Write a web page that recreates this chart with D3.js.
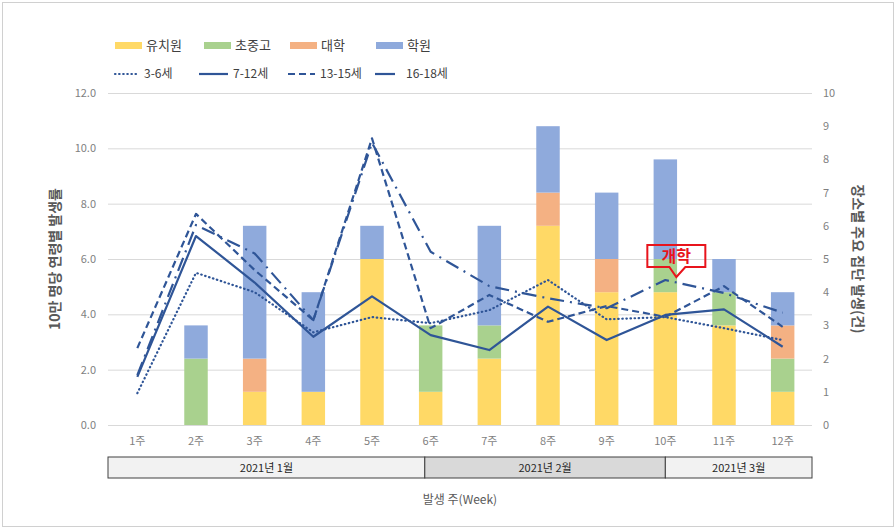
<!DOCTYPE html>
<html>
<head>
<meta charset="utf-8">
<script src="https://cdn.jsdelivr.net/npm/d3@7"></script>
<style>
  body { margin: 0; background: #fff; }
  text { font-family: "Noto Sans CJK KR", "Noto Sans", sans-serif; }
</style>
</head>
<body>
<div id="wrapper"></div>
<script>
// weeks and values
const weeks = ["1주","2주","3주","4주","5주","6주","7주","8주","9주","10주","11주","12주"]

// clusters by place (right axis, count)
const kindergarten = [0, 0, 1, 1, 5, 1, 2, 6, 4, 4, 3, 1]
const school       = [0, 2, 0, 0, 0, 2, 1, 0, 0, 1, 1, 1]
const university   = [0, 0, 1, 0, 0, 0, 0, 1, 1, 0, 0, 1]
const academy      = [0, 1, 4, 3, 1, 0, 3, 2, 2, 3, 1, 1]

// rate per 100k by age (left axis)
const age3to6   = [1.15, 5.5, 4.8, 3.35, 3.9, 3.68, 4.15, 5.24, 3.82, 3.9, 3.5, 3.07]
const age7to12  = [1.74, 6.83, 5.15, 3.19, 4.65, 3.25, 2.71, 4.28, 3.07, 3.98, 4.18, 2.83]
const age13to15 = [2.78, 7.63, 5.6, 3.79, 10.36, 3.5, 4.7, 3.73, 4.3, 3.91, 5.02, 3.55]
const age16to18 = [1.8, 7.23, 6.2, 3.79, 10.2, 6.26, 5.02, 4.58, 4.22, 5.24, 4.77, 4.06]

const leftTicks = [0, 2, 4, 6, 8, 10, 12]
const rightTicks = [0, 1, 2, 3, 4, 5, 6, 7, 8, 9, 10]

// month bands in week units
const months = [
    { label: "2021년 1월", start: 0, end: 5.4, fill: "#f2f2f2" },
    { label: "2021년 2월", start: 5.4, end: 9.5, fill: "#d9d9d9" },
    { label: "2021년 3월", start: 9.5, end: 12, fill: "#f2f2f2" },
]

const barSeries = [
    { name: "유치원", values: kindergarten, color: "#FFD966" },
    { name: "초중고", values: school, color: "#A9D18E" },
    { name: "대학", values: university, color: "#F4B183" },
    { name: "학원", values: academy, color: "#8FAADC" },
]
const lineSeries = [
    { name: "3-6세", values: age3to6, dash: "0.5,3.6", cap: "round" },
    { name: "7-12세", values: age7to12, dash: null, cap: "butt" },
    { name: "13-15세", values: age13to15, dash: "7,4", cap: "butt" },
    { name: "16-18세", values: age16to18, dash: "14,6,2,6", cap: "butt" },
]

let dimensions = {
    width: 896,
    height: 529,
    margin: { top: 93, right: 84, bottom: 104, left: 108 },
}
dimensions.boundedWidth = dimensions.width - dimensions.margin.left - dimensions.margin.right
dimensions.boundedHeight = dimensions.height - dimensions.margin.top - dimensions.margin.bottom

const lineColor = "#2F5597"
const gridColor = "#d9d9d9"
const tickColor = "#7f7f7f"

const svg = d3.select("#wrapper")
    .append("svg")
    .attr("width", dimensions.width)
    .attr("height", dimensions.height)

svg.append("rect")
    .attr("x", 2.5).attr("y", 2.5)
    .attr("width", dimensions.width - 5).attr("height", dimensions.height - 5)
    .attr("fill", "none").attr("stroke", "#d0d0d0")

const bounds = svg.append("g")
    .attr("transform", `translate(${dimensions.margin.left},${dimensions.margin.top})`)

const x = d3.scaleBand()
    .domain(weeks)
    .range([0, dimensions.boundedWidth])
    .paddingInner(0.6)
    .paddingOuter(0.3)
const xWeek = d3.scaleLinear().domain([0, 12]).range([0, dimensions.boundedWidth])
const yLeft = d3.scaleLinear().domain([0, 12]).range([dimensions.boundedHeight, 0])
const yRight = d3.scaleLinear().domain([0, 10]).range([dimensions.boundedHeight, 0])

// gridlines
const grid = bounds.append("g")
    .call(d3.axisLeft(yLeft).tickValues(leftTicks).tickSize(-dimensions.boundedWidth).tickFormat(""))
grid.select(".domain").remove()
grid.selectAll("line").attr("stroke", gridColor)

// left axis
const leftAxis = bounds.append("g")
    .call(d3.axisLeft(yLeft).tickValues(leftTicks).tickFormat(d3.format(".1f")).tickSize(0).tickPadding(12))
leftAxis.select(".domain").remove()
leftAxis.selectAll("text").attr("fill", tickColor).style("font-size", "11px")

// right axis
const rightAxis = bounds.append("g")
    .attr("transform", `translate(${dimensions.boundedWidth},0)`)
    .call(d3.axisRight(yRight).tickValues(rightTicks).tickSize(0).tickPadding(11))
rightAxis.select(".domain").remove()
rightAxis.selectAll("text").attr("fill", tickColor).style("font-size", "11px")

// bottom axis
const bottomAxis = bounds.append("g")
    .attr("transform", `translate(0,${dimensions.boundedHeight})`)
    .call(d3.axisBottom(x).tickSize(0).tickPadding(12))
bottomAxis.select(".domain").remove()
bottomAxis.selectAll("text").attr("fill", tickColor).style("font-size", "11px")

// stacked bars
const stackRows = weeks.map((w, i) => {
    const row = { week: w }
    barSeries.forEach(s => { row[s.name] = s.values[i] })
    return row
})
const stacked = d3.stack().keys(barSeries.map(s => s.name))(stackRows)

bounds.append("g")
    .selectAll("g")
    .data(stacked)
    .join("g")
    .attr("fill", (d, i) => barSeries[i].color)
    .selectAll("rect")
    .data(d => d)
    .join("rect")
    .attr("x", d => x(d.data.week))
    .attr("y", d => yRight(d[1]))
    .attr("width", x.bandwidth())
    .attr("height", d => yRight(d[0]) - yRight(d[1]))

// lines
const lineGen = d3.line()
    .x((d, i) => x(weeks[i]) + x.bandwidth() / 2)
    .y(d => yLeft(d))

bounds.append("g")
    .selectAll("path")
    .data(lineSeries)
    .join("path")
    .attr("d", d => lineGen(d.values))
    .attr("fill", "none")
    .attr("stroke", lineColor)
    .attr("stroke-width", 2.2)
    .attr("stroke-linejoin", "round")
    .attr("stroke-linecap", d => d.cap)
    .attr("stroke-dasharray", d => d.dash)

// 개학 callout
const callX = x("10주") + x.bandwidth() / 2
const callTip = yLeft(age16to18[9]) - 3
const callout = bounds.append("g").attr("fill", "none").attr("stroke", "#e8141c").attr("stroke-width", 2)
callout.append("path")
    .attr("d", `M${callX - 18},${callTip - 32} H${callX + 40} V${callTip - 10} H${callX + 20} L${callX + 11},${callTip} L${callX + 4},${callTip - 10} H${callX - 18} Z`)
bounds.append("text")
    .attr("x", callX + 11)
    .attr("y", callTip - 15)
    .attr("text-anchor", "middle")
    .attr("fill", "#e8141c")
    .style("font-size", "16px")
    .style("font-weight", "bold")
    .text("개학")

// month bands
const monthG = bounds.append("g")
    .attr("transform", `translate(0,${dimensions.boundedHeight + 32})`)
monthG.selectAll("rect")
    .data(months)
    .join("rect")
    .attr("x", d => xWeek(d.start))
    .attr("y", 0)
    .attr("width", d => xWeek(d.end) - xWeek(d.start))
    .attr("height", 21)
    .attr("fill", d => d.fill)
    .attr("stroke", "#404040")
    .attr("stroke-width", 1)
monthG.selectAll("text")
    .data(months)
    .join("text")
    .attr("x", d => (xWeek(d.start) + xWeek(d.end)) / 2)
    .attr("y", 15)
    .attr("text-anchor", "middle")
    .attr("fill", "#262626")
    .style("font-size", "11px")
    .text(d => d.label)

// axis titles
svg.append("text")
    .attr("transform", `translate(60,${dimensions.margin.top + dimensions.boundedHeight / 2}) rotate(-90)`)
    .attr("text-anchor", "middle")
    .attr("fill", "#595959")
    .style("font-size", "14px")
    .style("font-weight", "bold")
    .text("10만 명당 연령별 발생률")

svg.append("text")
    .attr("transform", `translate(853,${dimensions.margin.top + dimensions.boundedHeight / 2}) rotate(90)`)
    .attr("text-anchor", "middle")
    .attr("fill", "#595959")
    .style("font-size", "14px")
    .style("font-weight", "bold")
    .text("장소별 주요 집단 발생(건)")

svg.append("text")
    .attr("x", dimensions.margin.left + dimensions.boundedWidth / 2)
    .attr("y", 504)
    .attr("text-anchor", "middle")
    .attr("fill", "#595959")
    .style("font-size", "12px")
    .text("발생 주(Week)")

// legend
const legendBarX = [115, 204, 290, 376]
const legendLineX = [115, 199, 288, 375]
const legendLineW = [24, 29, 27, 20]

const legend1 = svg.append("g")
legend1.selectAll("rect")
    .data(barSeries)
    .join("rect")
    .attr("x", (d, i) => legendBarX[i])
    .attr("y", 42)
    .attr("width", 27)
    .attr("height", 7)
    .attr("fill", d => d.color)
legend1.selectAll("text")
    .data(barSeries)
    .join("text")
    .attr("x", (d, i) => legendBarX[i] + 31)
    .attr("y", 50)
    .attr("fill", "#404040")
    .style("font-size", "13px")
    .text(d => d.name)

const legend2 = svg.append("g")
legend2.selectAll("line")
    .data(lineSeries)
    .join("line")
    .attr("x1", (d, i) => legendLineX[i])
    .attr("x2", (d, i) => legendLineX[i] + legendLineW[i])
    .attr("y1", 74)
    .attr("y2", 74)
    .attr("stroke", lineColor)
    .attr("stroke-width", 2.2)
    .attr("stroke-linecap", d => d.cap)
    .attr("stroke-dasharray", (d, i) => i === 3 ? null : d.dash)
legend2.selectAll("text")
    .data(lineSeries)
    .join("text")
    .attr("x", (d, i) => legendLineX[i] + legendLineW[i] + (i === 3 ? 11 : 5))
    .attr("y", 78)
    .attr("fill", "#404040")
    .style("font-size", "12px")
    .text(d => d.name)
</script>
</body>
</html>
